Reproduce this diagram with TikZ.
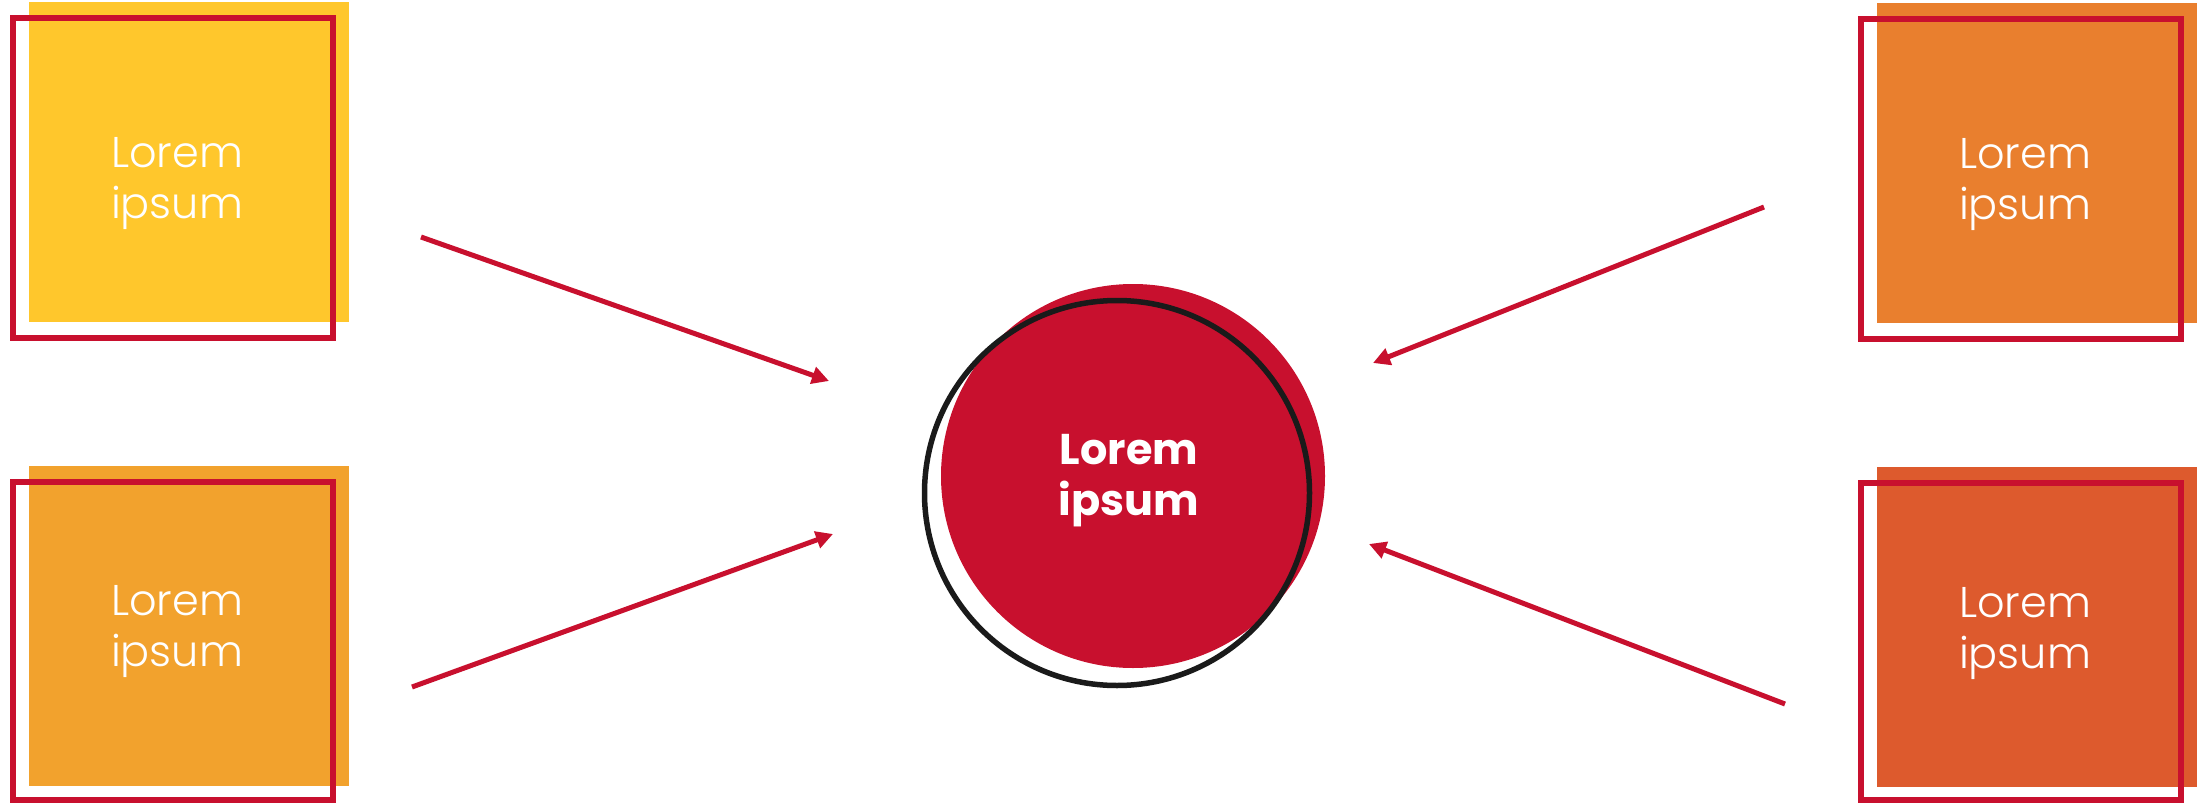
\documentclass[tikz,border=0pt]{standalone}
\usepackage{fontspec}
\setmainfont{Poppins}[UprightFont=* Light, BoldFont=* Bold]
\usetikzlibrary{arrows.meta}
\definecolor{cred}{HTML}{C8102E}
\definecolor{cyellow}{HTML}{FFC72C}
\definecolor{corange}{HTML}{E97F2E}
\definecolor{camber}{HTML}{F2A22D}
\definecolor{cvermil}{HTML}{DD5A2D}
\definecolor{cring}{HTML}{1A1A1A}
\tikzset{
  fillsq/.style={rectangle, minimum width=320pt, minimum height=320pt, inner sep=0pt},
  framesq/.style={rectangle, draw=cred, line width=6pt, minimum width=320pt, minimum height=320pt, inner sep=0pt},
  sqlabel/.style={text=white, align=center, font=\fontsize{43pt}{51pt}\selectfont},
  hublabel/.style={text=white, align=center, font=\bfseries\fontsize{43pt}{51pt}\selectfont},
  conn/.style={draw=cred, line width=5pt, -{Triangle[length=17pt,width=17pt]}}
}
\begin{document}
\begin{tikzpicture}[x=1pt,y=-1pt]
\useasboundingbox (0,0) rectangle (2203,803);
% top-left
\node[fillsq, fill=cyellow] (f1) at (189,162) {};
\node[framesq] (r1) at (173,178) {};
\node[sqlabel] (t1) at (177,184) {Lorem\\ipsum};
% top-right
\node[fillsq, fill=corange] (f2) at (2037,163) {};
\node[framesq] (r2) at (2021,179) {};
\node[sqlabel] (t2) at (2025,185) {Lorem\\ipsum};
% bottom-left
\node[fillsq, fill=camber] (f3) at (189,626) {};
\node[framesq, minimum height=318pt] (r3) at (173,641) {};
\node[sqlabel] (t3) at (177,632) {Lorem\\ipsum};
% bottom-right
\node[fillsq, fill=cvermil] (f4) at (2037,627) {};
\node[framesq, minimum height=317pt] (r4) at (2021,641.5) {};
\node[sqlabel] (t4) at (2025,634) {Lorem\\ipsum};
% hub
\node[circle, fill=cred, minimum size=384pt, inner sep=0pt] (hub) at (1133,476) {};
\node[circle, draw=cring, line width=5.5pt, minimum size=385pt, inner sep=0pt] (ring) at (1117,493) {};
\node[hublabel] (ht) at (1129,481) {Lorem\\ipsum};
% arrow endpoints
\coordinate (a1s) at (421,237); \coordinate (a1e) at (829,381);
\coordinate (a2s) at (412,687); \coordinate (a2e) at (833,534);
\coordinate (a3s) at (1764,207); \coordinate (a3e) at (1373,363);
\coordinate (a4s) at (1785,704); \coordinate (a4e) at (1369,544);
\draw[conn] (a1s) -- (a1e);
\draw[conn] (a2s) -- (a2e);
\draw[conn] (a3s) -- (a3e);
\draw[conn] (a4s) -- (a4e);
\end{tikzpicture}
\end{document}
